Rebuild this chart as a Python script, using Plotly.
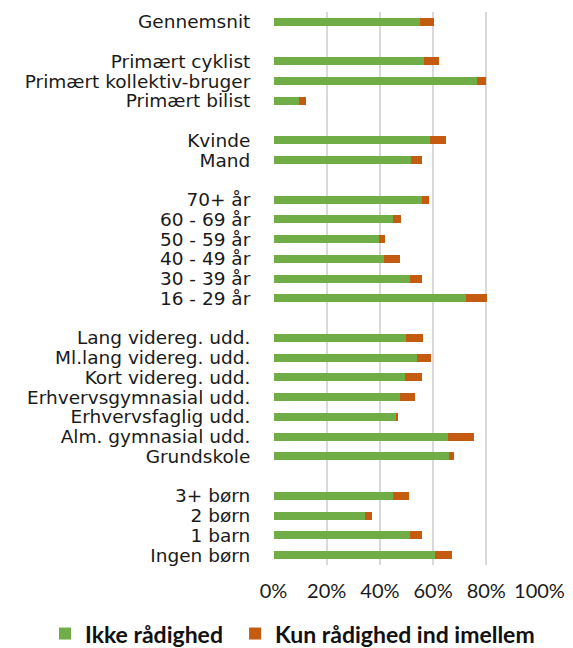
import plotly.graph_objects as go

# Groups of categories (top to bottom); blank rows separate groups
groups = [
    ["Gennemsnit"],
    ["Primært cyklist", "Primært kollektiv-bruger", "Primært bilist"],
    ["Kvinde", "Mand"],
    ["70+ år", "60 - 69 år", "50 - 59 år", "40 - 49 år", "30 - 39 år", "16 - 29 år"],
    ["Lang videreg. udd.", "Ml.lang videreg. udd.", "Kort videreg. udd.",
     "Erhvervsgymnasial udd.", "Erhvervsfaglig udd.", "Alm. gymnasial udd.", "Grundskole"],
    ["3+ børn", "2 børn", "1 barn", "Ingen børn"],
]

ikke_raadighed = [
    [0.552],
    [0.566, 0.764, 0.095],
    [0.588, 0.516],
    [0.560, 0.451, 0.396, 0.415, 0.515, 0.722],
    [0.499, 0.539, 0.496, 0.476, 0.462, 0.656, 0.660],
    [0.450, 0.344, 0.512, 0.609],
]

kun_ind_imellem = [
    [0.050],
    [0.058, 0.035, 0.026],
    [0.062, 0.041],
    [0.024, 0.028, 0.024, 0.061, 0.044, 0.079],
    [0.064, 0.054, 0.061, 0.056, 0.005, 0.098, 0.018],
    [0.060, 0.027, 0.045, 0.061],
]

series_names = ["Ikke rådighed", "Kun rådighed ind imellem"]
colors = ["#70AD47", "#C55A11"]
legend_ids = ["legend", "legend2"]

# Build category axis with blank spacer rows between groups
cats, v1, v2, ticktext = [], [], [], []
for gi, (g, a, b) in enumerate(zip(groups, ikke_raadighed, kun_ind_imellem)):
    if gi > 0:
        spacer = " " * gi
        cats.append(spacer); v1.append(None); v2.append(None); ticktext.append("")
    cats.extend(g); v1.extend(a); v2.extend(b); ticktext.extend(g)

fig = go.Figure()
for name, vals, col, lg in zip(series_names, [v1, v2], colors, legend_ids):
    fig.add_trace(go.Bar(
        y=cats, x=vals, name=name, orientation="h",
        marker=dict(color=col, line=dict(width=0)),
        width=0.4, legend=lg,
    ))

FONT = "'DejaVu Sans', 'Open Sans', sans-serif"
LFONT = "Lato, 'Open Sans', sans-serif"
legend_style = dict(
    orientation="h", xanchor="left", y=-0.124, yanchor="middle",
    font=dict(family=LFONT, size=23, color="#111111", weight="bold"),
    itemwidth=30, bgcolor="rgba(0,0,0,0)",
)
fig.update_layout(
    barmode="stack",
    width=573, height=648,
    margin=dict(l=273, r=33, t=12, b=83, autoexpand=False),
    paper_bgcolor="white", plot_bgcolor="white",
    font=dict(family=FONT, size=18.5, color="#1a1a1a"),
    showlegend=True,
    legend=dict(x=-0.854, **legend_style),
    legend2=dict(x=-0.142, **legend_style),
    xaxis=dict(
        range=[-0.002, 1.002], dtick=0.2, tick0=0, tickformat=".0%",
        showgrid=True, gridcolor="#d9d9d9", gridwidth=2,
        zeroline=False, showline=False, automargin=False,
        ticks="outside", ticklen=8, tickcolor="rgba(0,0,0,0)",
        tickfont=dict(family=LFONT, size=20),
    ),
    yaxis=dict(
        type="category", categoryorder="array", categoryarray=cats,
        autorange="reversed", automargin=False,
        tickmode="array", tickvals=cats, ticktext=ticktext,
        showgrid=False, zeroline=False, showline=False,
        ticks="outside", ticklen=18, tickcolor="rgba(0,0,0,0)",
        tickfont=dict(size=18.5),
    ),
)

fig.write_html("out.html", config={"displayModeBar": False},
               post_script="document.body.style.margin='0';")
